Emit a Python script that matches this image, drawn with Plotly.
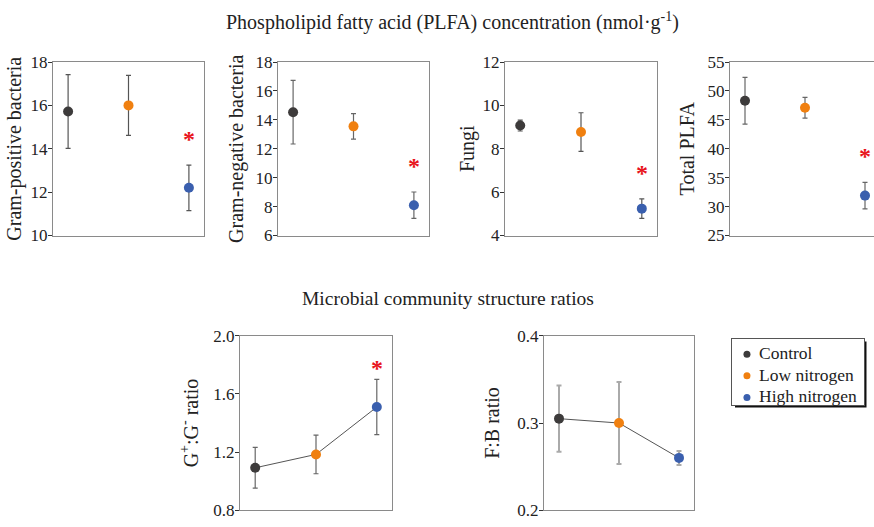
import plotly.graph_objects as go

# Treatment groups and measured values (mean ± SE)
groups = ["Control", "Low nitrogen", "High nitrogen"]
x_pos = [0, 1, 2]

gram_pos_mean = [15.72, 16.0, 12.2]
gram_pos_err = [1.7, 1.38, 1.05]
gram_neg_mean = [14.53, 13.55, 8.1]
gram_neg_err = [2.2, 0.88, 0.91]
fungi_mean = [9.07, 8.77, 5.24]
fungi_err = [0.25, 0.89, 0.45]
total_mean = [48.3, 47.1, 31.9]
total_err = [4.05, 1.8, 2.3]
gpgn_mean = [1.092, 1.184, 1.51]
gpgn_err = [0.14, 0.133, 0.19]
fb_mean = [0.305, 0.300, 0.26]
fb_err = [0.038, 0.047, 0.008]

# Significance flags (vs control)
sig_gram_pos = [False, False, True]
sig_gram_neg = [False, False, True]
sig_fungi = [False, False, True]
sig_total = [False, False, True]
sig_gpgn = [False, False, True]
sig_fb = [False, False, False]

colors = ["#3d3b3b", "#f08010", "#3a5fae"]
FONT = "Liberation Serif, Times New Roman, Times, serif"
TXT = "#222222"
W, H = 874, 527


def px_x(a, b):
    return [a / W, b / W]


def px_y(top, bottom):
    return [1 - bottom / H, 1 - top / H]


panels = [
    # key, mean, err, sig, ytitle, standoff, yrange, dtick, fmt, xdom, ydom, connect, err style, xrange
    ("1", gram_pos_mean, gram_pos_err, sig_gram_pos, "Gram-positive bacteria", 3, [10, 18], 2, "d",
     px_x(53, 204), px_y(55, 235), False, ("#555555", 1.2), [-0.25, 2.25]),
    ("2", gram_neg_mean, gram_neg_err, sig_gram_neg, "Gram-negative bacteria", 6, [6, 18], 2, "d",
     px_x(278, 429), px_y(55, 235), False, ("#666666", 1.2), [-0.25, 2.25]),
    ("3", fungi_mean, fungi_err, sig_fungi, "Fungi", 2, [4, 12], 2, "d",
     px_x(505, 657), px_y(55, 235), False, ("#555555", 1.2), [-0.25, 2.25]),
    ("4", total_mean, total_err, sig_total, "Total PLFA", 7, [25, 55], 5, "d",
     px_x(730, 874), px_y(55, 235), False, ("#666666", 1.2), [-0.25, 2.15]),
    ("5", gpgn_mean, gpgn_err, sig_gpgn, "G<sup>+</sup>:G<sup>-</sup> ratio", 9, [0.8, 2.0], 0.4, ".1f",
     px_x(240, 392), px_y(339, 520), True, ("#666666", 1.2), [-0.25, 2.25]),
    ("6", fb_mean, fb_err, sig_fb, "F:B ratio", 12, [0.2, 0.4], 0.1, ".1f",
     px_x(544, 694), px_y(339, 520), True, ("#aaaaaa", 2), [-0.25, 2.25]),
]

fig = go.Figure()
annotations = []
layout_axes = {}

for (k, mean, err, sig, ytitle, standoff, yrange, dtick, fmt, xdom, ydom,
     connect, estyle, xrange_) in panels:
    xa = "x" if k == "1" else "x" + k
    ya = "y" if k == "1" else "y" + k
    if connect:
        fig.add_trace(go.Scatter(
            x=x_pos, y=mean, mode="lines", xaxis=xa, yaxis=ya,
            line=dict(color="#555555", width=1), showlegend=False, hoverinfo="skip"))
    for i, g in enumerate(groups):
        fig.add_trace(go.Scatter(
            x=[x_pos[i]], y=[mean[i]], mode="markers", name=g,
            showlegend=False, xaxis=xa, yaxis=ya,
            marker=dict(color=colors[i], size=10),
            error_y=dict(type="data", array=[err[i]], color=estyle[0],
                         thickness=estyle[1], width=2.5),
        ))
        if sig[i]:
            annotations.append(dict(
                x=x_pos[i], y=mean[i] + err[i], xref=xa, yref=ya,
                text="<b>*</b>", showarrow=False, yanchor="bottom",
                yshift=(11 if k != "5" else -4),
                font=dict(family=FONT, size=24, color="#e8141c")))

    xkey = "xaxis" if k == "1" else "xaxis" + k
    ykey = "yaxis" if k == "1" else "yaxis" + k
    mirror_y = k != "4"
    layout_axes[xkey] = dict(
        domain=xdom, anchor=ya, range=xrange_, showticklabels=False,
        ticks="", showgrid=False, zeroline=False, showline=True,
        linecolor="#8a8a8a", linewidth=1, mirror=True)
    layout_axes[ykey] = dict(
        domain=ydom, anchor=xa, range=yrange, dtick=dtick, tick0=yrange[0],
        tickformat=fmt, ticks="outside", ticklen=4, tickcolor="#333333",
        ticklabelstandoff=-3, showgrid=False,
        zeroline=False, showline=True, linecolor="#8a8a8a", linewidth=1,
        mirror=mirror_y,
        tickfont=dict(family=FONT, size=17, color=TXT),
        title=dict(text=ytitle, standoff=standoff,
                   font=dict(family=FONT, size=20, color=TXT)))

# Legend drawn on its own small axis: one row per treatment group
fig.add_trace(go.Scatter(
    x=[0] * len(groups), y=groups, mode="markers", xaxis="x7", yaxis="y7",
    marker=dict(color=colors, size=7), showlegend=False, hoverinfo="skip"))
for g in groups:
    annotations.append(dict(
        x=0, y=g, xref="x7", yref="y7", text=g, showarrow=False,
        xanchor="left", yanchor="middle", xshift=10, yshift=1,
        font=dict(family=FONT, size=17.5, color=TXT)))
layout_axes["xaxis7"] = dict(
    domain=px_x(732, 864), anchor="y7", range=[-0.115, 0.9],
    showticklabels=False, ticks="", showgrid=False, zeroline=False,
    showline=True, linecolor="#555555", linewidth=1, mirror=True)
layout_axes["yaxis7"] = dict(
    domain=px_y(342, 411), anchor="x7", type="category",
    categoryorder="array", categoryarray=groups, range=[2.36, -0.72],
    showticklabels=False, ticks="", showgrid=False, zeroline=False,
    showline=True, linecolor="#555555", linewidth=1, mirror=True)

annotations.append(dict(
    x=452 / W, y=1 - 13 / H, xref="paper", yref="paper", showarrow=False,
    xanchor="center", yanchor="middle",
    text="Phospholipid fatty acid (PLFA) concentration (nmol·g<sup>-1</sup>)",
    font=dict(family=FONT, size=20, color=TXT)))
annotations.append(dict(
    x=448 / W, y=1 - 300 / H, xref="paper", yref="paper", showarrow=False,
    xanchor="center", yanchor="middle",
    text="Microbial community structure ratios",
    font=dict(family=FONT, size=19.5, color=TXT)))

# Drop shadow behind the legend box
shapes = [dict(type="rect", xref="paper", yref="paper",
               x0=735 / W, x1=866.5 / W, y0=1 - 413.5 / H, y1=1 - 345 / H,
               fillcolor="#111111", line=dict(width=0), layer="below"),
          dict(type="rect", xref="paper", yref="paper",
               x0=732 / W, x1=864 / W, y0=1 - 411 / H, y1=1 - 342 / H,
               fillcolor="white", line=dict(width=0), layer="below")]

fig.update_layout(
    width=W, height=H, margin=dict(l=0, r=0, t=0, b=0),
    paper_bgcolor="white", plot_bgcolor="rgba(0,0,0,0)",
    annotations=annotations, shapes=shapes, showlegend=False,
    **layout_axes,
)

fig.write_html("out.html")
